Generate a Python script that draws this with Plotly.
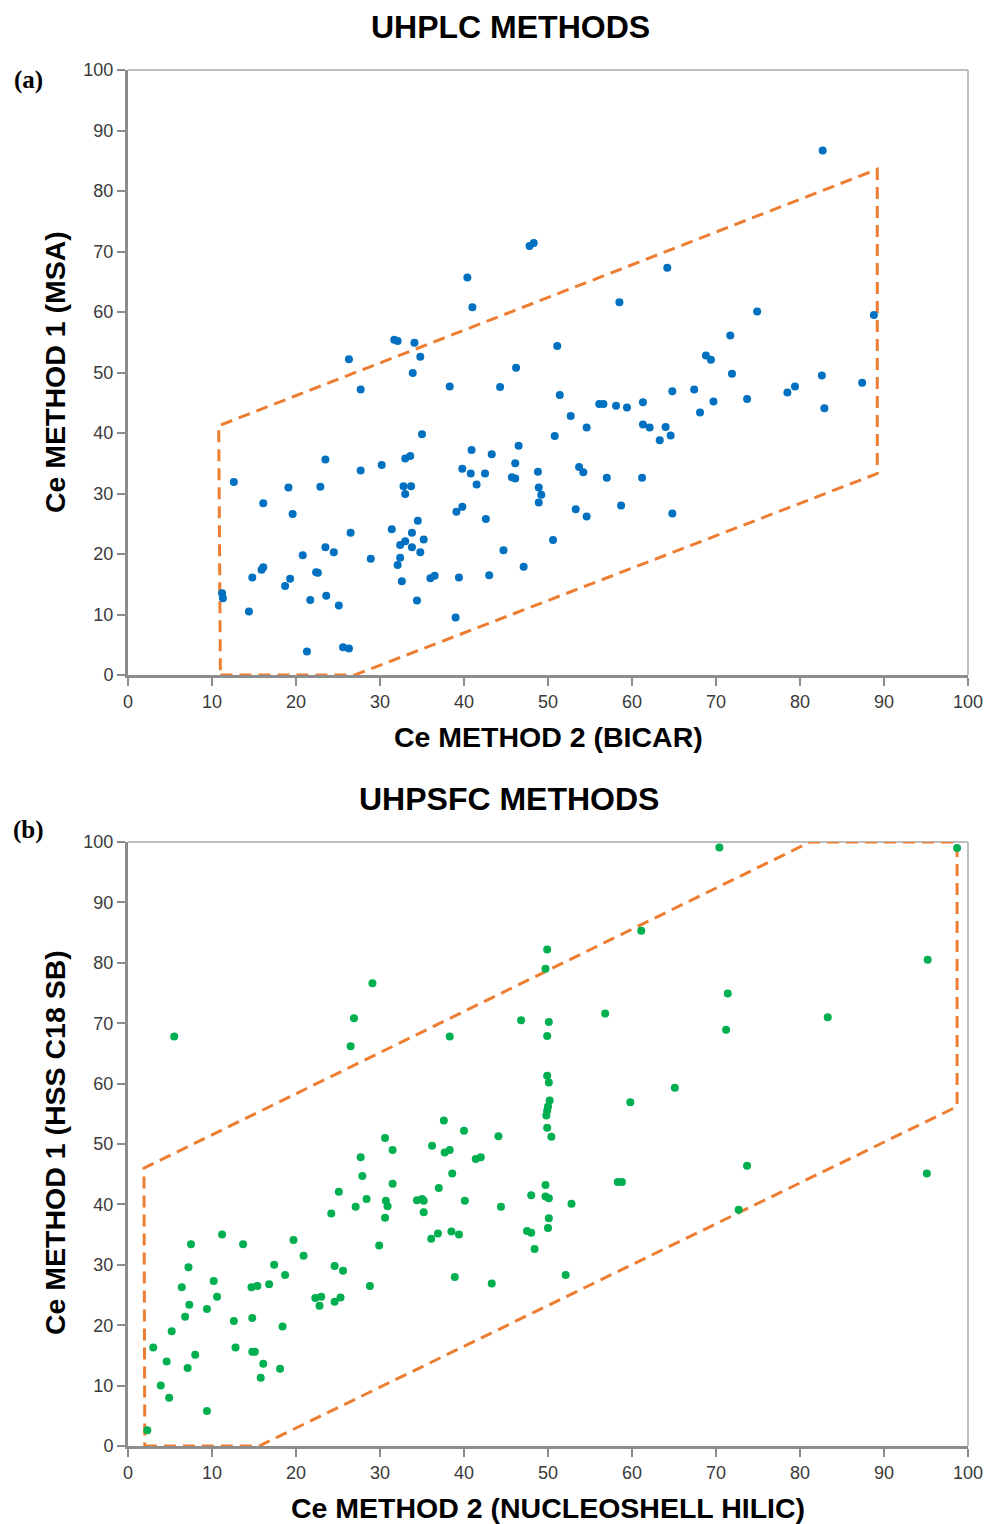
import plotly.graph_objects as go

# ---------------- Panel (a) UHPLC data ----------------
a_x = [82.7, 47.8, 48.3, 40.4, 64.2, 41.0, 58.5, 74.9, 88.8, 31.7, 32.1, 34.1, 51.1, 34.8, 26.3, 71.7,
       68.8, 69.4, 33.9, 46.2, 71.9, 82.6, 27.7, 38.3, 44.3, 67.4, 64.8, 78.5, 79.4, 87.4, 51.4, 73.7,
       56.1, 56.6, 58.1, 59.4, 61.3, 69.7, 68.1, 82.9, 52.7, 54.6, 61.3, 62.1, 64.0, 64.6, 63.3, 35.0,
       50.8, 40.9, 46.5, 43.3, 23.5, 33.0, 33.6, 39.8, 40.8, 46.1, 48.8, 53.7, 54.2, 30.2, 27.7, 42.5,
       41.5, 45.7, 46.1, 57.0, 61.2, 12.6, 19.1, 22.9, 32.8, 33.7, 33.0, 48.9, 49.2, 48.9, 16.1, 19.6,
       42.6, 53.3, 54.6, 58.7, 64.8, 39.1, 39.8, 34.5, 31.4, 26.5, 35.2, 33.8, 33.0, 32.4, 33.8, 34.8,
       23.5, 24.5, 44.7, 50.6, 20.8, 28.9, 32.4, 32.1, 47.1, 15.9, 16.1, 22.4, 22.6, 14.8, 19.3, 18.7,
       36.0, 36.5, 39.4, 43.0, 32.6, 11.2, 11.3, 23.6, 21.7, 34.4, 25.1, 14.4, 39.0, 21.3, 25.6, 26.3]
a_y = [86.7, 70.9, 71.4, 65.7, 67.3, 60.8, 61.6, 60.1, 59.5, 55.4, 55.2, 54.9, 54.4, 52.6, 52.2, 56.1,
       52.8, 52.1, 49.9, 50.8, 49.8, 49.5, 47.2, 47.7, 47.6, 47.2, 46.9, 46.7, 47.7, 48.3, 46.3, 45.6,
       44.8, 44.8, 44.5, 44.2, 45.1, 45.2, 43.4, 44.1, 42.8, 40.9, 41.4, 40.9, 41.0, 39.6, 38.8, 39.8,
       39.5, 37.2, 37.9, 36.5, 35.6, 35.8, 36.2, 34.1, 33.3, 35.0, 33.6, 34.4, 33.5, 34.7, 33.8, 33.3,
       31.5, 32.7, 32.5, 32.6, 32.6, 31.9, 31.0, 31.1, 31.2, 31.2, 29.9, 31.0, 29.8, 28.5, 28.4, 26.6,
       25.8, 27.4, 26.2, 28.0, 26.7, 27.0, 27.8, 25.5, 24.1, 23.5, 22.4, 23.5, 22.1, 21.5, 21.1, 20.3,
       21.1, 20.3, 20.6, 22.3, 19.8, 19.2, 19.4, 18.2, 17.9, 17.4, 17.8, 17.0, 16.9, 16.1, 15.9, 14.7,
       16.0, 16.4, 16.1, 16.5, 15.5, 13.5, 12.7, 13.1, 12.4, 12.3, 11.5, 10.5, 9.5, 3.9, 4.6, 4.4]
a_box_x = [11, 27, 89.2, 89.2, 10.8, 11]
a_box_y = [0, 0, 33.3, 83.6, 41.2, 0]

# ---------------- Panel (b) UHPSFC data ----------------
b_x = [70.4, 98.7, 61.1, 49.9, 49.7, 95.2, 29.1, 71.4, 56.8, 83.3, 26.9, 46.8, 50.1, 71.2, 5.5, 38.3,
       49.9, 26.5, 49.9, 50.1, 65.1, 50.2, 59.8, 50.0, 49.9, 49.8, 37.6, 49.9, 40.0, 44.1, 50.4, 30.6,
       31.5, 36.2, 37.7, 38.3, 41.4, 42.0, 27.7, 73.7, 95.1, 27.9, 38.6, 31.5, 49.7, 58.3, 58.8, 37.0,
       25.1, 48.0, 49.7, 50.1, 28.4, 30.7, 34.4, 35.0, 35.2, 40.1, 52.8, 27.1, 30.9, 44.4, 72.7, 35.2,
       24.2, 30.6, 50.1, 50.0, 47.5, 48.0, 38.5, 39.4, 36.1, 36.9, 11.2, 19.7, 7.5, 13.7, 29.9, 48.4,
       20.9, 17.4, 24.6, 7.2, 25.6, 18.7, 52.1, 38.9, 10.2, 43.3, 16.8, 28.8, 14.7, 15.4, 6.4, 10.6,
       22.3, 23.0, 25.3, 24.6, 22.8, 7.3, 9.4, 6.8, 14.8, 12.6, 18.4, 5.2, 3.0, 12.8, 14.8, 15.1,
       8.0, 4.6, 16.1, 7.1, 18.1, 15.8, 3.9, 4.9, 9.4, 2.3]
b_y = [99.1, 99.0, 85.3, 82.2, 79.0, 80.5, 76.6, 74.9, 71.6, 71.0, 70.8, 70.5, 70.2, 68.9, 67.8, 67.8,
       67.9, 66.2, 61.3, 60.2, 59.3, 57.2, 56.9, 56.2, 55.5, 54.7, 53.9, 52.7, 52.2, 51.3, 51.2, 51.0,
       49.0, 49.7, 48.6, 49.0, 47.5, 47.8, 47.8, 46.4, 45.1, 44.7, 45.1, 43.4, 43.2, 43.7, 43.7, 42.7,
       42.1, 41.5, 41.3, 41.0, 40.9, 40.6, 40.7, 40.9, 40.6, 40.6, 40.1, 39.6, 39.7, 39.6, 39.1, 38.7,
       38.5, 37.8, 37.7, 36.1, 35.6, 35.3, 35.5, 35.0, 34.3, 35.2, 35.0, 34.1, 33.4, 33.4, 33.2, 32.6,
       31.5, 30.0, 29.8, 29.6, 29.0, 28.3, 28.3, 28.0, 27.3, 26.9, 26.8, 26.5, 26.3, 26.5, 26.3, 24.7,
       24.5, 24.7, 24.6, 23.9, 23.2, 23.4, 22.7, 21.4, 21.2, 20.7, 19.8, 19.0, 16.3, 16.3, 15.6, 15.6,
       15.1, 14.0, 13.6, 12.9, 12.8, 11.3, 10.0, 8.0, 5.8, 2.6]
b_box_x = [2, 15.6, 98.7, 98.7, 81.2, 1.9, 2]
b_box_y = [0, 0, 56.2, 100, 100, 46, 0]

tick_vals = [0, 10, 20, 30, 40, 50, 60, 70, 80, 90, 100]
tick_text = [str(v) for v in tick_vals]

BLUE = "#0070C0"
GREEN = "#00B050"
ORANGE = "#ED7D31"
DASH = "12px,7px"

fig = go.Figure()

fig.add_trace(go.Scatter(x=a_box_x, y=a_box_y, mode="lines", xaxis="x", yaxis="y",
                         line=dict(color=ORANGE, width=3, dash=DASH), showlegend=False))
fig.add_trace(go.Scatter(x=a_x, y=a_y, mode="markers", xaxis="x", yaxis="y",
                         marker=dict(color=BLUE, size=8, line=dict(width=0)), showlegend=False))
fig.add_trace(go.Scatter(x=b_box_x, y=b_box_y, mode="lines", xaxis="x2", yaxis="y2",
                         line=dict(color=ORANGE, width=3, dash=DASH), showlegend=False))
fig.add_trace(go.Scatter(x=b_x, y=b_y, mode="markers", xaxis="x2", yaxis="y2",
                         marker=dict(color=GREEN, size=8, line=dict(width=0)), showlegend=False))

W, H = 987, 1524
xd = [128 / W, 968 / W]
ya = [1 - 675 / H, 1 - 70 / H]
yb = [1 - 1446 / H, 1 - 842 / H]

tickfont = dict(family="Liberation Sans Narrow, Liberation Sans, Arial, sans-serif", size=18, color="#3a3a3a")
axis_common = dict(range=[0, 100], tickvals=tick_vals, ticktext=tick_text, showgrid=False, zeroline=False,
                   showline=True, linecolor="#8c8c8c", linewidth=3, ticks="outside", ticklen=8,
                   tickwidth=1.5, tickcolor="#8c8c8c", tickfont=tickfont, fixedrange=True,
                   automargin=False)

fig.update_layout(
    width=W, height=H,
    margin=dict(l=0, r=0, t=0, b=0, pad=0, autoexpand=False),
    paper_bgcolor="white", plot_bgcolor="white",
    xaxis=dict(domain=xd, anchor="y", **axis_common),
    yaxis=dict(domain=ya, anchor="x", **axis_common),
    xaxis2=dict(domain=xd, anchor="y2", **axis_common),
    yaxis2=dict(domain=yb, anchor="x2", **axis_common),
)

# light top/right frame
for xr, yr in (("x", "y"), ("x2", "y2")):
    fig.add_shape(type="line", xref=f"{xr} domain", yref=f"{yr} domain", x0=0, x1=1, y0=1, y1=1,
                  line=dict(color="#bfbfbf", width=2), layer="below")
    fig.add_shape(type="line", xref=f"{xr} domain", yref=f"{yr} domain", x0=1, x1=1, y0=0, y1=1,
                  line=dict(color="#bfbfbf", width=2), layer="below")

title_font = dict(family="Liberation Sans, Arial, sans-serif", size=32, color="black")
label_font = dict(family="Liberation Sans, Arial, sans-serif", size=28.5, color="black")
panel_font = dict(family="Liberation Serif, Times New Roman, serif", size=25, color="black")

def ann(text, px, py, font, angle=0):
    fig.add_annotation(text=text, x=px / W, y=1 - py / H, xref="paper", yref="paper",
                       showarrow=False, xanchor="center", yanchor="middle", font=font, textangle=angle)

ann("<b>UHPLC METHODS</b>", 510, 27, title_font)
ann("<b>UHPSFC METHODS</b>", 509, 799, title_font)
ann("<b>(a)</b>", 28, 80, panel_font)
ann("<b>(b)</b>", 28, 830, panel_font)
ann("<b>Ce METHOD 2 (BICAR)</b>", 548, 737, label_font)
ann("<b>Ce METHOD 1 (MSA)</b>", 55, 372, label_font, -90)
ann("<b>Ce METHOD 2 (NUCLEOSHELL HILIC)</b>", 548, 1508, label_font)
ann("<b>Ce METHOD 1 (HSS C18 SB)</b>", 55, 1143, label_font, -90)

fig.write_html("out.html", config={"displayModeBar": False},
               post_script="document.body.style.margin='0';document.body.style.padding='0';"
                           "document.body.style.overflow='hidden';")
